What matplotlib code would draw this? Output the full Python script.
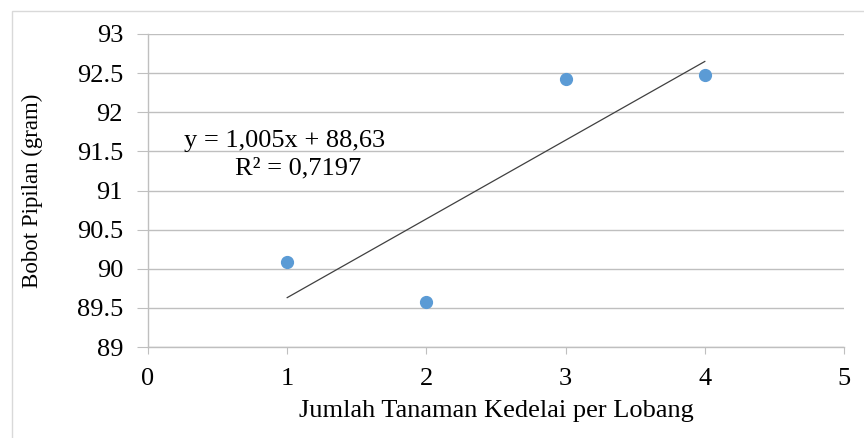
import matplotlib.pyplot as plt
import numpy as np
from matplotlib.patches import Rectangle

plt.rcParams['font.family'] = ['Liberation Serif', 'DejaVu Serif']

# jumlah tanaman per lobang vs bobot pipilan
jumlah = [1, 2, 3, 4]
bobot = [90.08, 89.57, 92.43, 92.48]

xticks = [0, 1, 2, 3, 4, 5]
yticks = [89, 89.5, 90, 90.5, 91, 91.5, 92, 92.5, 93]
ytick_labels = ['89', '89.5', '90', '90.5', '91', '91.5', '92', '92.5', '93']

fig = plt.figure(figsize=(8.64, 4.38), dpi=100)
fig.patches.append(Rectangle((12 / 864, -0.1), 1.0, 1 - 11 / 438 + 0.1,
                             transform=fig.transFigure, fill=False,
                             edgecolor='#d9d9d9', linewidth=1))
ax = fig.add_axes([148 / 864, 1 - 347 / 438, 696 / 864, 313 / 438])

grid_col = '#bfbfbf'
ax.set_xlim(0, 5)
ax.set_ylim(89, 93)
for y in yticks:
    ax.axhline(y, color=grid_col, linewidth=1, zorder=1)

# garis tren linear
slope, intercept = np.polyfit(jumlah, bobot, 1)
xs = np.array([min(jumlah), max(jumlah)])
ax.plot(xs, slope * xs + intercept, color='#404040', linewidth=0.9, zorder=2)

ax.plot(jumlah, bobot, 'o', color='#5b9bd5', markersize=8.5, zorder=3)

ax.text(0.98, 91.63, 'y = 1,005x + 88,63', ha='center', va='center', fontsize=19)
ax.text(1.08, 91.28, 'R² = 0,7197', ha='center', va='center', fontsize=19)

for s in ['top', 'right']:
    ax.spines[s].set_visible(False)
for s in ['left', 'bottom']:
    ax.spines[s].set_color(grid_col)
    ax.spines[s].set_linewidth(1)

ax.set_xticks(xticks)
ax.set_yticks(yticks)
ax.set_yticklabels(ytick_labels)
ax.tick_params(axis='y', length=8, color=grid_col, labelsize=19, pad=10)
ax.tick_params(axis='x', length=5, color=grid_col, labelsize=19, pad=10)

ax.set_xlabel('Jumlah Tanaman Kedelai per Lobang', fontsize=19, labelpad=7)
ax.set_ylabel('Bobot Pipilan (gram)', fontsize=16.5, labelpad=24)

fig.savefig('out.png', dpi=100)
